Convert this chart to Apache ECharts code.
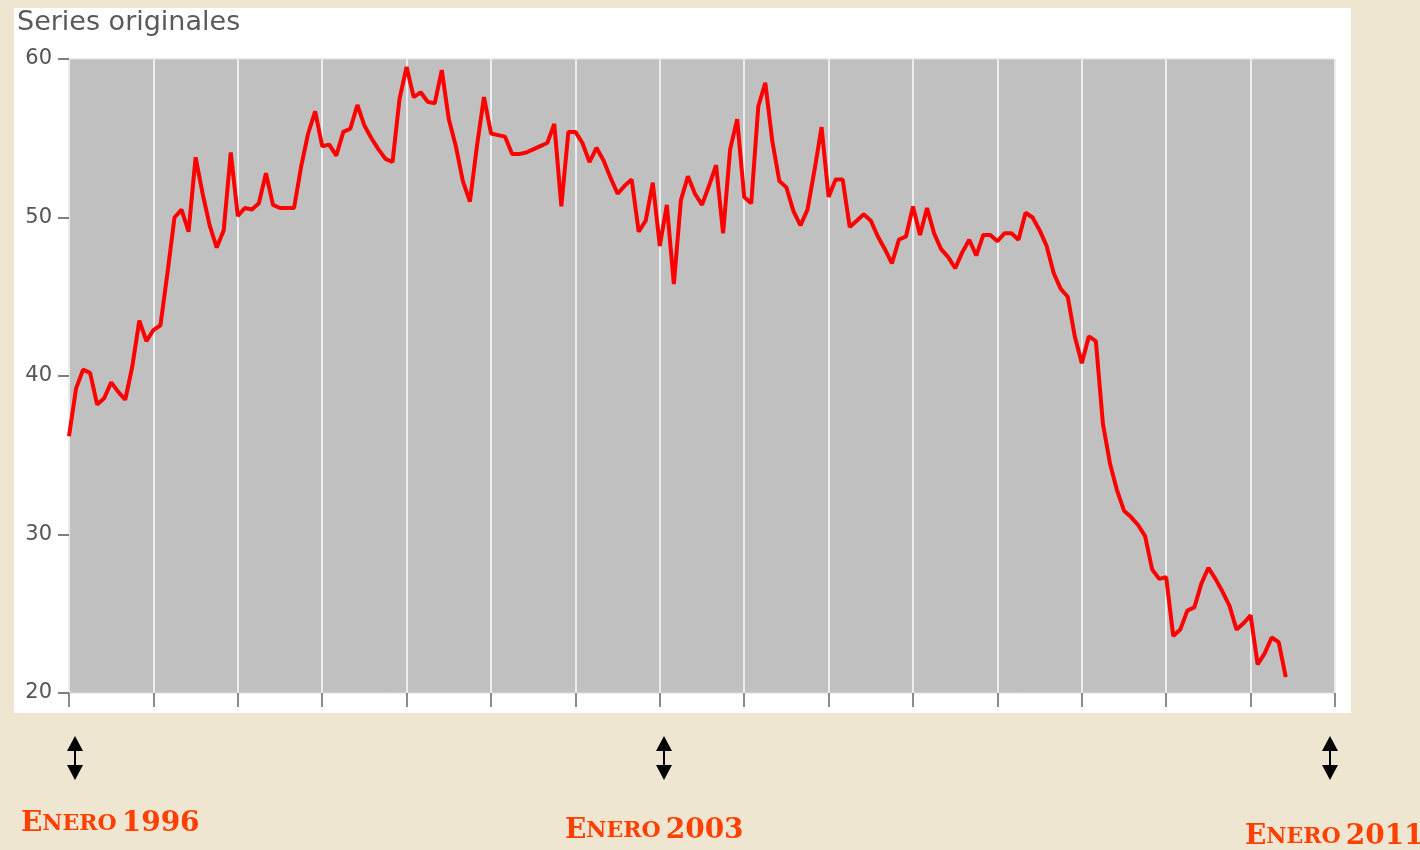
<!DOCTYPE html>
<html>
<head>
<meta charset="utf-8">
<script src="https://cdn.jsdelivr.net/npm/echarts@6/dist/echarts.min.js"></script>
<style>
html,body{margin:0;padding:0;background:#EFE6D2;}
#chart{width:1420px;height:850px;}
</style>
</head>
<body>
<div id="chart"></div>
<script>
// Years covered by the x axis (each split = January of that year)
const years = [1996,1997,1998,1999,2000,2001,2002,2003,2004,2005,2006,2007,2008,2009,2010,2011];
const yTicks = [20, 30, 40, 50, 60];
const titleText = 'Series originales';
const markLabels = ['1996', '2003', '2011'];

// Monthly values, one array per year
const v1996 = [36.2, 39.2, 40.4, 40.2, 38.2, 38.6, 39.6, 39.0, 38.5, 40.6, 43.5, 42.2];
const v1997 = [42.9, 43.2, 46.5, 50.0, 50.5, 49.1, 53.8, 51.5, 49.5, 48.1, 49.2, 54.1];
const v1998 = [50.1, 50.6, 50.5, 50.9, 52.8, 50.8, 50.6, 50.6, 50.6, 53.2, 55.3, 56.7];
const v1999 = [54.5, 54.6, 53.9, 55.4, 55.6, 57.1, 55.8, 55.0, 54.3, 53.7, 53.5, 57.5];
const v2000 = [59.5, 57.6, 57.9, 57.3, 57.2, 59.3, 56.2, 54.5, 52.3, 51.0, 54.5, 57.6];
const v2001 = [55.3, 55.2, 55.1, 54.0, 54.0, 54.1, 54.3, 54.5, 54.7, 55.9, 50.7, 55.4];
const v2002 = [55.4, 54.7, 53.5, 54.4, 53.6, 52.5, 51.5, 52.0, 52.4, 49.1, 49.8, 52.2];
const v2003 = [48.2, 50.8, 45.8, 51.1, 52.6, 51.5, 50.8, 52.0, 53.3, 49.0, 54.3, 56.2];
const v2004 = [51.3, 50.9, 57.0, 58.5, 54.8, 52.3, 51.9, 50.4, 49.5, 50.5, 53.0, 55.7];
const v2005 = [51.3, 52.4, 52.4, 49.4, 49.8, 50.2, 49.8, 48.8, 48.0, 47.1, 48.6, 48.8];
const v2006 = [50.7, 48.9, 50.6, 49.0, 48.0, 47.5, 46.8, 47.8, 48.6, 47.6, 48.9, 48.9];
const v2007 = [48.5, 49.0, 49.0, 48.6, 50.3, 50.0, 49.2, 48.2, 46.5, 45.5, 45.0, 42.5];
const v2008 = [40.8, 42.5, 42.2, 37.0, 34.5, 32.8, 31.5, 31.1, 30.6, 29.9, 27.8, 27.2];
const v2009 = [27.3, 23.6, 24.0, 25.2, 25.4, 26.9, 27.9, 27.2, 26.4, 25.5, 24.0, 24.4];
const v2010 = [24.9, 21.8, 22.5, 23.5, 23.2, 21.0];

const values = [].concat(v1996, v1997, v1998, v1999, v2000, v2001, v2002, v2003,
  v2004, v2005, v2006, v2007, v2008, v2009, v2010);

// Month categories: Jan 1996 ... Jan 2011
const months = [];
years.forEach(function (y) {
  for (let m = 1; m <= 12; m++) {
    if (y === years[years.length - 1] && m > 1) break;
    months.push(y + '-' + (m < 10 ? '0' + m : m));
  }
});

const chart = echarts.init(document.getElementById('chart'));

function arrow(x) {
  return {
    type: 'group',
    children: [
      { type: 'polygon', shape: { points: [[x, 736], [x - 8, 751], [x + 8, 751]] }, style: { fill: '#000' } },
      { type: 'line', shape: { x1: x, y1: 750, x2: x, y2: 766 }, style: { stroke: '#000', lineWidth: 2 } },
      { type: 'polygon', shape: { points: [[x, 780], [x - 8, 765], [x + 8, 765]] }, style: { fill: '#000' } }
    ]
  };
}

const richLab = {
  a: { fontFamily: 'DejaVu Serif', fontWeight: 'bold', fontSize: 28, color: '#FF4000' },
  b: { fontFamily: 'DejaVu Serif', fontWeight: 'bold', fontSize: 22, color: '#FF4000' }
};
function lab(year) { return '{a|E}{b|NERO} {a|' + year + '}'; }

chart.setOption({
  backgroundColor: '#EFE6D2',
  animation: false,
  title: [
    { text: titleText, left: 12, top: 4,
      textStyle: { fontFamily: 'DejaVu Sans', fontWeight: 'normal', fontSize: 27, color: '#5a5a5a' } },
    { text: lab(markLabels[0]), left: 16, top: 805, textStyle: { rich: richLab } },
    { text: lab(markLabels[1]), left: 560, top: 812, textStyle: { rich: richLab } },
    { text: lab(markLabels[2]), left: 1240, top: 818, textStyle: { rich: richLab } }
  ],
  graphic: [
    { type: 'rect', z: -100, shape: { x: 14, y: 8, width: 1337, height: 705 }, style: { fill: '#ffffff' } },
    arrow(75), arrow(664), arrow(1330)
  ],
  grid: {
    left: 69, top: 59, right: 85, bottom: 157,
    show: true, backgroundColor: '#C0C0C0', borderColor: '#dedede', borderWidth: 1
  },
  xAxis: {
    type: 'category',
    data: months,
    boundaryGap: false,
    axisLine: { show: false },
    axisLabel: { show: false },
    axisTick: { show: true, length: 14, interval: function (i) { return i % 12 === 0; },
      lineStyle: { color: '#666', width: 1.5 } },
    splitLine: { show: true, interval: function (i) { return i % 12 === 0; },
      lineStyle: { color: '#ececec', width: 2 } }
  },
  yAxis: {
    type: 'value',
    min: yTicks[0], max: yTicks[yTicks.length - 1], interval: 10,
    axisLine: { show: false },
    axisTick: { show: true, length: 11, lineStyle: { color: '#555', width: 1.5 } },
    axisLabel: { margin: 17, fontFamily: 'DejaVu Sans', fontSize: 21, color: '#555' },
    splitLine: { show: false }
  },
  series: [{
    type: 'line',
    data: values,
    symbol: 'none',
    lineStyle: { color: '#FF0000', width: 4 },
    z: 5
  }]
});
</script>
</body>
</html>
